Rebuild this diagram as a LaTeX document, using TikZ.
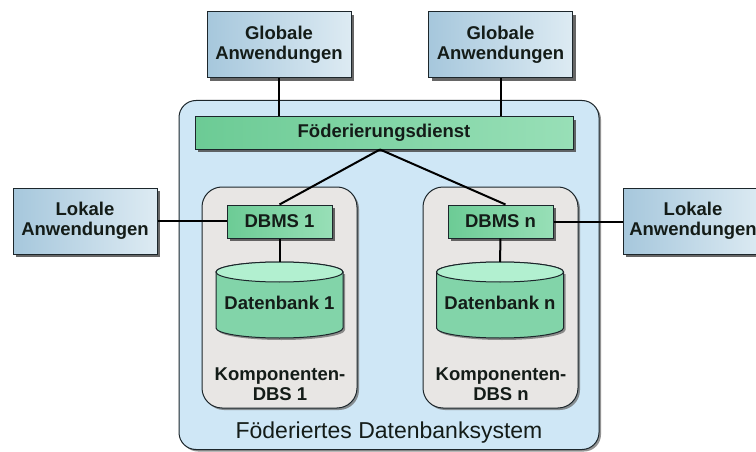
\documentclass[tikz,border=0pt]{standalone}
\usepackage{fontspec}
\setmainfont{Liberation Sans}
\usetikzlibrary{shadows}

\definecolor{appA}{HTML}{A6C7DC}
\definecolor{appB}{HTML}{DDEBF3}
\definecolor{grnA}{HTML}{6CCB95}
\definecolor{grnB}{HTML}{98DFB7}
\definecolor{cylA}{HTML}{82D4A9}
\definecolor{cylB}{HTML}{B6F2D4}
\definecolor{cylTop}{HTML}{B2F0D0}
\definecolor{outerfill}{HTML}{CFE7F6}
\definecolor{compfill}{HTML}{E8E6E4}
\definecolor{edge}{HTML}{1C262B}
\definecolor{ink}{HTML}{141C18}

\tikzset{
  shade/.style={drop shadow={shadow xshift=3pt, shadow yshift=-3pt, fill=black!70, opacity=0.85}},
  label/.style={font=\bfseries\fontsize{18.5}{20}\selectfont, text=ink, align=center, inner sep=0pt},
  appbox/.style={label, shade, draw=edge, line width=1pt, left color=appA, right color=appB,
                 minimum width=144pt, minimum height=66pt},
  grnbox/.style={label, shade, draw=edge, line width=1pt, left color=grnA, right color=grnB},
  outerbox/.style={draw=edge, line width=1pt, fill=outerfill, rounded corners=17pt,
                   drop shadow={shadow xshift=2pt, shadow yshift=-2pt, fill=black!60, opacity=0.7}},
  compbox/.style={draw=edge, line width=1pt, fill=compfill, rounded corners=20pt,
                  drop shadow={shadow xshift=2pt, shadow yshift=-2pt, fill=black!60, opacity=0.7},
                  minimum width=155pt, minimum height=221pt},
  cylbody/.style={draw=edge, line width=1pt, top color=cylA, middle color=cylB, bottom color=cylA},
  conn/.style={line width=2pt, black},
}

\begin{document}
\begin{tikzpicture}[x=1pt, y=-1pt]
\useasboundingbox (0,0) rectangle (756,452);
\fill[white] (0,0) rectangle (756,452);

% federated system frame
\node[outerbox, minimum width=420pt, minimum height=349pt] (fds) at (389,275) {};
\node[font=\fontsize{23}{26}\selectfont, text=ink, anchor=base] (fdslabel) at (389,438)
  {Föderiertes Datenbanksystem};

% component database systems
\node[compbox] (k1) at (279.5,297.5) {};
\node[compbox] (kn) at (500.5,297.5) {};
\node[label] (k1label) at (280,384) {Komponenten-\\DBS 1};
\node[label] (knlabel) at (501,384) {Komponenten-\\DBS n};

% databases drawn as cylinders
\foreach \cx/\nm/\txt in {279.5/db1/Datenbank 1, 500/dbn/Datenbank n}{
  \fill[black!55, opacity=0.8, xshift=2pt, yshift=-2pt]
    (\cx-63.5,272) -- (\cx-63.5,328)
    arc[start angle=180, end angle=360, x radius=63.5pt, y radius=10pt]
    -- (\cx+63.5,272) -- cycle;
  \path[cylbody] (\cx-63.5,272) -- (\cx-63.5,328)
    arc[start angle=180, end angle=360, x radius=63.5pt, y radius=10pt]
    -- (\cx+63.5,272)
    arc[start angle=0, end angle=180, x radius=63.5pt, y radius=10pt] -- cycle;
  \draw[line width=1pt, draw=edge, fill=cylTop] (\cx,272) ellipse [x radius=63.5pt, y radius=10pt];
  \coordinate (\nm top) at (\cx,262);
  \node[label] (\nm) at (\cx,303) {\txt};
}

% federation service and DBMS boxes
\node[grnbox, minimum width=378pt, minimum height=32pt] (fed) at (384,133) {Föderierungsdienst};
\node[grnbox, minimum width=105pt, minimum height=33pt] (dbms1) at (279.5,221.5) {DBMS 1};
\node[grnbox, minimum width=105pt, minimum height=33pt] (dbmsn) at (500.5,221.5) {DBMS n};

% applications
\node[appbox] (g1) at (279,45) {Globale\\Anwendungen};
\node[appbox] (g2) at (500.5,45) {Globale\\Anwendungen};
\node[appbox] (l1) at (85,221) {Lokale\\Anwendungen};
\node[appbox, minimum width=140pt] (ln) at (693,221) {Lokale\\Anwendungen};

% connections
\coordinate (fork) at ([xshift=-4pt]fed.south);
\draw[conn] (g1.south) -- (g1.south |- fed.north);
\draw[conn] (g2.south) -- (g2.south |- fed.north);
\draw[conn] (fork) -- (dbms1.north);
\draw[conn] (fork) -- ([xshift=5pt]dbmsn.north);
\draw[conn] (l1.east) -- (l1.east -| dbms1.west);
\draw[conn] (dbmsn.east) -- (dbmsn.east -| ln.west);
\draw[conn] (dbms1.south) -- (db1top);
\draw[conn] (dbmsn.south) -- (dbntop);
\end{tikzpicture}
\end{document}
